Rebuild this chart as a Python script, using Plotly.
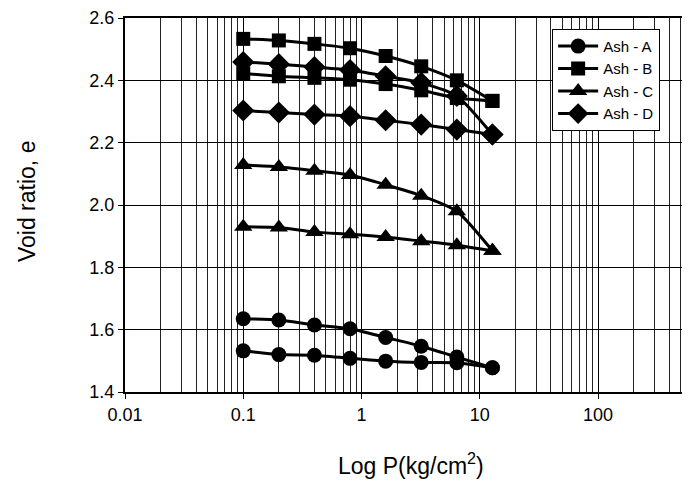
import plotly.graph_objects as go

# Pressure steps (kg/cm^2)
pressure_load = [0.1, 0.2, 0.4, 0.8, 1.6, 3.2, 6.4, 12.8]
pressure_unload = [12.8, 6.4, 3.2, 1.6, 0.8, 0.4, 0.2, 0.1]

# Void ratio, loading branch (upper) and unloading branch (lower)
e_A_load = [1.635, 1.631, 1.615, 1.603, 1.575, 1.547, 1.512, 1.478]
e_A_unload = [1.478, 1.494, 1.495, 1.499, 1.508, 1.518, 1.520, 1.532]

e_B_load = [2.533, 2.528, 2.517, 2.503, 2.478, 2.445, 2.400, 2.334]
e_B_unload = [2.334, 2.343, 2.368, 2.388, 2.402, 2.408, 2.413, 2.422]

e_C_load = [2.128, 2.122, 2.110, 2.096, 2.065, 2.030, 1.980, 1.853]
e_C_unload = [1.853, 1.871, 1.884, 1.897, 1.906, 1.913, 1.928, 1.930]

e_D_load = [2.459, 2.452, 2.443, 2.433, 2.413, 2.392, 2.350, 2.226]
e_D_unload = [2.226, 2.242, 2.258, 2.272, 2.285, 2.290, 2.297, 2.303]

series_names = ["Ash - A", "Ash - B", "Ash - C", "Ash - D"]
symbols = ["circle", "square", "triangle-up", "diamond"]
sizes = [15, 14, 16, 17]
loads = [e_A_load, e_B_load, e_C_load, e_D_load]
unloads = [e_A_unload, e_B_unload, e_C_unload, e_D_unload]

y_ticks = [1.4, 1.6, 1.8, 2.0, 2.2, 2.4, 2.6]
x_ticks = [0.01, 0.1, 1, 10, 100]
x_ticktext = ["0.01", "0.1", "1", "10", "100"]

x_title = "Log P(kg/cm<sup>2</sup>)"
y_title = "Void ratio, e"

FONT = "Liberation Sans, Arial, sans-serif"

# page body has an 8px margin: figure is 682x474, placed at (8, 8)
fig = go.Figure()
for name, sym, sz, ld, ul in zip(series_names, symbols, sizes, loads, unloads):
    fig.add_trace(go.Scatter(
        x=pressure_load, y=ld, name=name, legendgroup=name,
        mode="lines+markers", line=dict(color="black", width=3, shape="spline", smoothing=0.6),
        marker=dict(symbol=sym, size=sz, color="black"),
        showlegend=True))
    fig.add_trace(go.Scatter(
        x=pressure_unload, y=ul, name=name, legendgroup=name,
        mode="lines+markers", line=dict(color="black", width=3, shape="spline", smoothing=0.6),
        marker=dict(symbol=sym, size=sz, color="black"),
        showlegend=False))

fig.update_layout(
    width=682, height=474,
    margin=dict(l=117, r=0, t=6, b=90),
    paper_bgcolor="white", plot_bgcolor="white",
    font=dict(family=FONT, size=18, color="black"),
    showlegend=True,
    legend=dict(x=0.756, y=0.971, xanchor="left", yanchor="top",
                bgcolor="white", bordercolor="black", borderwidth=1,
                font=dict(size=15, family=FONT), itemwidth=40, entrywidth=80,
                tracegroupgap=0),
    annotations=[
        dict(text=x_title, xref="paper", yref="paper", x=(411 - 125) / 565, y=(392 - 465) / 378,
             xanchor="center", yanchor="middle", showarrow=False, font=dict(size=23)),
        dict(text=y_title, xref="paper", yref="paper", x=(27 - 125) / 565, y=(392 - 200) / 378,
             xanchor="center", yanchor="middle", showarrow=False, textangle=-90, font=dict(size=23)),
    ],
)
fig.update_xaxes(
    type="log", range=[-2, 2.778],
    tickvals=x_ticks, ticktext=x_ticktext,
    showgrid=True, gridcolor="black", gridwidth=1,
    minor=dict(showgrid=True, gridcolor="#222", gridwidth=1, dtick="D1", ticks=""),
    showline=True, linecolor="black", linewidth=2, mirror=True,
    ticks="outside", ticklen=5, tickcolor="black",
    tickfont=dict(size=18), zeroline=False, ticklabeloverflow="allow",
)
fig.update_yaxes(
    range=[1.4, 2.6], tickvals=y_ticks, tickformat=".1f",
    showgrid=True, gridcolor="black", gridwidth=1,
    showline=True, linecolor="black", linewidth=2,
    ticks="outside", ticklen=5, tickcolor="black",
    tickfont=dict(size=18), zeroline=False, ticklabeloverflow="allow",
)

fig.write_html("out.html")
